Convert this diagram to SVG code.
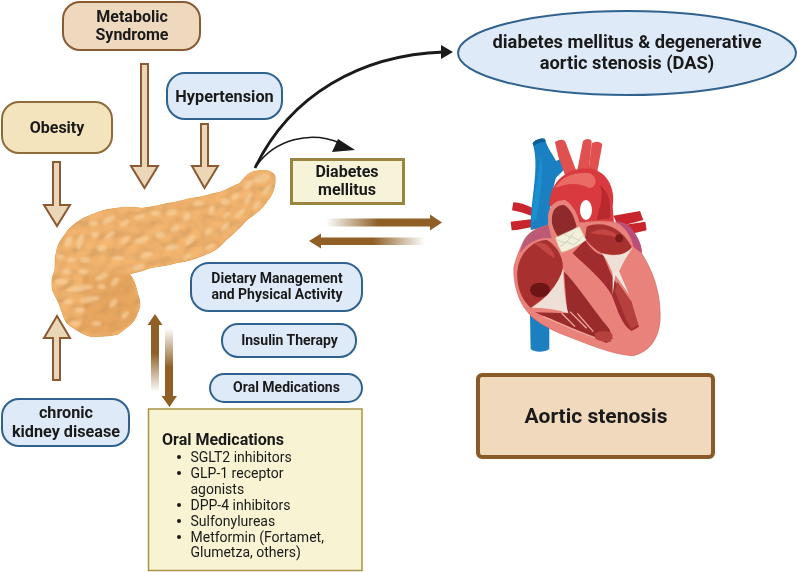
<svg xmlns="http://www.w3.org/2000/svg" width="797" height="572" viewBox="0 0 797 572">
<style>
text{font-family:Roboto,"Liberation Sans",sans-serif;fill:#1a1a1a;text-anchor:middle;font-weight:700}
.b{fill:#deeaf7;stroke:#30628f;stroke-width:2}
.t{fill:#eed9bf;stroke:#8a5a32;stroke-width:2}
.y{fill:#f3e4bd;stroke:#8f6b3a;stroke-width:2}
.ar{fill:#ebd6b8;stroke:#8a5a32;stroke-width:2;stroke-linejoin:miter}
.l{text-anchor:start;font-weight:400;font-size:14px}
.lob{fill:#f6d09c}
.lob2{fill:#d8944a}
</style>
<defs>
<linearGradient id="gr" x1="0" x2="1" y1="0" y2="0"><stop offset="0" stop-color="#8f5f26" stop-opacity="0"/><stop offset=".45" stop-color="#8f5f26"/><stop offset="1" stop-color="#8f5f26"/></linearGradient>
<linearGradient id="gl" x1="1" x2="0" y1="0" y2="0"><stop offset="0" stop-color="#8f5f26" stop-opacity="0"/><stop offset=".45" stop-color="#8f5f26"/><stop offset="1" stop-color="#8f5f26"/></linearGradient>
<linearGradient id="gu" x1="0" x2="0" y1="1" y2="0"><stop offset="0" stop-color="#8f5f26" stop-opacity="0"/><stop offset=".5" stop-color="#8f5f26"/><stop offset="1" stop-color="#8f5f26"/></linearGradient>
<linearGradient id="gd" x1="0" x2="0" y1="0" y2="1"><stop offset="0" stop-color="#8f5f26" stop-opacity="0"/><stop offset=".5" stop-color="#8f5f26"/><stop offset="1" stop-color="#8f5f26"/></linearGradient>
<filter id="soft2" x="-5%" y="-5%" width="110%" height="110%"><feGaussianBlur stdDeviation="2.500"/></filter>
<filter id="bump" x="0" y="0" width="100%" height="100%"><feTurbulence type="fractalNoise" baseFrequency=".03 .036" numOctaves="1" seed="7"/><feGaussianBlur stdDeviation="2" result="n"/><feDiffuseLighting in="n" surfaceScale="7" lighting-color="#f4b670" result="l"><feDistantLight azimuth="235" elevation="70"/></feDiffuseLighting><feComposite in="l" in2="SourceGraphic" operator="in"/></filter>
<clipPath id="pc"><path d="M705,50C700,32 675,28 640,35C620,42 612,55 600,70C575,80 560,90 540,97C510,102 490,112 455,115C425,122 405,128 385,130C355,137 335,142 305,145C275,140 245,142 215,147C185,150 155,165 130,175C105,190 85,205 78,220C62,240 52,255 50,275C42,295 48,320 44,335C34,350 35,375 38,390C42,405 55,420 62,445C72,470 75,490 90,497C110,510 130,525 155,530C180,528 205,530 235,522C255,505 285,490 292,460C303,440 300,420 294,405C288,385 285,360 268,342C290,335 305,335 325,325C350,318 380,318 410,308C440,305 470,295 500,282C520,275 540,262 558,240C575,225 595,210 620,180C640,165 665,150 680,125C695,110 708,80 705,50Z"/></clipPath>
</defs>

<g id="pancreas" transform="translate(40,160) scale(.3333)">
<path d="M705,50C700,32 675,28 640,35C620,42 612,55 600,70C575,80 560,90 540,97C510,102 490,112 455,115C425,122 405,128 385,130C355,137 335,142 305,145C275,140 245,142 215,147C185,150 155,165 130,175C105,190 85,205 78,220C62,240 52,255 50,275C42,295 48,320 44,335C34,350 35,375 38,390C42,405 55,420 62,445C72,470 75,490 90,497C110,510 130,525 155,530C180,528 205,530 235,522C255,505 285,490 292,460C303,440 300,420 294,405C288,385 285,360 268,342C290,335 305,335 325,325C350,318 380,318 410,308C440,305 470,295 500,282C520,275 540,262 558,240C575,225 595,210 620,180C640,165 665,150 680,125C695,110 708,80 705,50Z" fill="#e8a75c" stroke="#e39a48" stroke-width="3"/>
<path d="M705,50C700,32 675,28 640,35C620,42 612,55 600,70C575,80 560,90 540,97C510,102 490,112 455,115C425,122 405,128 385,130C355,137 335,142 305,145C275,140 245,142 215,147C185,150 155,165 130,175C105,190 85,205 78,220C62,240 52,255 50,275C42,295 48,320 44,335C34,350 35,375 38,390C42,405 55,420 62,445C72,470 75,490 90,497C110,510 130,525 155,530C180,528 205,530 235,522C255,505 285,490 292,460C303,440 300,420 294,405C288,385 285,360 268,342C290,335 305,335 325,325C350,318 380,318 410,308C440,305 470,295 500,282C520,275 540,262 558,240C575,225 595,210 620,180C640,165 665,150 680,125C695,110 708,80 705,50Z" fill="#000" filter="url(#bump)"/>
<g clip-path="url(#pc)"><g filter="url(#soft2)">
<path class="lob2" d="M130,350C180,340 230,345 268,342C290,370 300,440 280,480C240,525 170,530 110,510C150,470 120,410 130,350Z" opacity=".4"/>
<g class="lob" opacity=".7">
<ellipse cx="665" cy="55" rx="28" ry="12" transform="rotate(-15 665 55)"/><ellipse cx="625" cy="75" rx="18" ry="9" transform="rotate(-50 625 75)"/><ellipse cx="680" cy="90" rx="20" ry="8" transform="rotate(-50 680 90)"/><ellipse cx="625" cy="115" rx="22" ry="8" transform="rotate(-65 625 115)"/><ellipse cx="650" cy="135" rx="16" ry="7" transform="rotate(-55 650 135)"/><ellipse cx="585" cy="110" rx="15" ry="8" transform="rotate(-30 585 110)"/><ellipse cx="555" cy="125" rx="14" ry="10"/><ellipse cx="600" cy="160" rx="20" ry="8" transform="rotate(-45 600 160)"/><ellipse cx="555" cy="200" rx="18" ry="8" transform="rotate(-45 555 200)"/><ellipse cx="515" cy="150" rx="9" ry="16" transform="rotate(15 515 150)"/><ellipse cx="475" cy="130" rx="16" ry="8"/><ellipse cx="440" cy="170" rx="10" ry="14" transform="rotate(20 440 170)"/><ellipse cx="395" cy="158" rx="17" ry="9" transform="rotate(-15 395 158)"/><ellipse cx="345" cy="160" rx="15" ry="8"/><ellipse cx="300" cy="170" rx="16" ry="8" transform="rotate(-20 300 170)"/><ellipse cx="255" cy="190" rx="16" ry="8" transform="rotate(-30 255 190)"/><ellipse cx="205" cy="180" rx="22" ry="9" transform="rotate(-30 205 180)"/><ellipse cx="160" cy="190" rx="14" ry="8"/><ellipse cx="120" cy="245" rx="9" ry="26" transform="rotate(15 120 245)"/><ellipse cx="85" cy="245" rx="10" ry="18" transform="rotate(25 85 245)"/><ellipse cx="165" cy="225" rx="12" ry="9"/><ellipse cx="210" cy="225" rx="18" ry="8" transform="rotate(-35 210 225)"/><ellipse cx="255" cy="240" rx="17" ry="8" transform="rotate(-40 255 240)"/><ellipse cx="305" cy="240" rx="23" ry="8" transform="rotate(-20 305 240)"/><ellipse cx="360" cy="225" rx="15" ry="11"/><ellipse cx="405" cy="205" rx="16" ry="9" transform="rotate(-30 405 205)"/><ellipse cx="450" cy="240" rx="20" ry="9" transform="rotate(-50 450 240)"/><ellipse cx="505" cy="215" rx="15" ry="9" transform="rotate(-40 505 215)"/><ellipse cx="510" cy="260" rx="16" ry="7" transform="rotate(-25 510 260)"/><ellipse cx="395" cy="262" rx="19" ry="10" transform="rotate(-10 395 262)"/><ellipse cx="320" cy="285" rx="20" ry="9" transform="rotate(-20 320 285)"/><ellipse cx="295" cy="322" rx="20" ry="9" transform="rotate(-15 295 322)"/><ellipse cx="235" cy="295" rx="17" ry="7"/><ellipse cx="185" cy="265" rx="14" ry="10"/><ellipse cx="135" cy="300" rx="14" ry="9"/><ellipse cx="95" cy="300" rx="13" ry="8"/><ellipse cx="60" cy="290" rx="12" ry="7"/><ellipse cx="185" cy="350" rx="20" ry="9" transform="rotate(-25 185 350)"/><ellipse cx="130" cy="335" rx="15" ry="8"/><ellipse cx="80" cy="335" rx="14" ry="8"/><ellipse cx="65" cy="365" rx="20" ry="9"/><ellipse cx="120" cy="385" rx="40" ry="9" transform="rotate(-8 120 385)"/><ellipse cx="185" cy="380" rx="12" ry="8"/><ellipse cx="150" cy="418" rx="30" ry="9" transform="rotate(-10 150 418)"/><ellipse cx="85" cy="425" rx="14" ry="8"/><ellipse cx="120" cy="450" rx="14" ry="8"/><ellipse cx="225" cy="365" rx="16" ry="8" transform="rotate(-50 225 365)"/><ellipse cx="220" cy="430" rx="14" ry="8" transform="rotate(-50 220 430)"/><ellipse cx="255" cy="465" rx="14" ry="7" transform="rotate(-50 255 465)"/><ellipse cx="105" cy="490" rx="16" ry="6"/><ellipse cx="170" cy="490" rx="14" ry="7"/><ellipse cx="440" cy="290" rx="16" ry="6" transform="rotate(-20 440 290)"/><ellipse cx="560" cy="165" rx="12" ry="7" transform="rotate(-40 560 165)"/>
</g></g></g>
</g>

<g id="heart" transform="translate(490,125) scale(.3333)">
<g fill="#c8262c"><path d="M70,232C90,232 110,240 130,250L128,274C105,265 85,260 66,256Z"/><path d="M62,290L128,282L130,305C105,310 85,315 65,316Z"/><path d="M370,272L450,258L460,285L385,305Z"/><path d="M400,300L466,290L470,316L410,330Z"/></g>
<path d="M120,570L178,580L178,672C165,682 135,684 122,672Z" fill="#1b7fc0"/>
<path d="M128,55C135,42 160,38 165,42C172,70 190,90 198,108L215,100L228,128L198,158C185,200 180,250 175,305L122,315C122,210 150,130 128,55Z" fill="#1b80c2"/>
<path d="M128,55C135,42 160,38 165,42L166,50C155,52 140,55 132,62Z" fill="#0e5f98"/>
<path d="M150,90C165,130 150,210 140,280L125,290C128,210 150,150 150,90Z" fill="#1a90d0"/>
<g fill="#e0504f"><path d="M195,52C205,42 220,42 226,50L258,135L225,150L205,95Z"/><path d="M279,48C288,40 300,40 305,48L296,140L262,135Z"/><path d="M305,55C315,48 330,48 337,58L322,140L296,135Z"/></g>
<path d="M178,240C180,170 230,130 290,130C350,132 378,190 368,245L372,295L230,300Z" fill="#d83a3f"/>
<path d="M195,190C215,150 260,140 300,145C325,160 320,185 300,190C265,170 225,175 195,190Z" fill="#ea6a66"/>
<path d="M330,180C355,200 365,230 360,280L320,285C325,250 345,220 330,180Z" fill="#b92a30"/>
<ellipse cx="288" cy="255" rx="18" ry="30" fill="#fff"/>
<path d="M100,350C115,320 140,310 175,300L280,292C340,285 385,285 425,315C450,345 455,370 455,385C490,440 515,510 510,590C505,640 480,680 430,692C370,690 300,660 210,625C165,605 130,585 112,560C85,530 68,470 72,425C80,395 88,375 100,350Z" fill="#e8827a" stroke="#d9675f" stroke-width="2"/>
<path d="M100,350C115,320 140,310 175,300L185,340C150,335 115,350 90,385C92,375 95,362 100,350Z" fill="#bd5a78"/>
<path d="M375,288C400,290 420,300 430,318C450,345 456,370 455,385L430,365C425,335 405,305 375,288Z" fill="#b94f78"/>
<path d="M82,440C85,385 130,345 170,345C200,360 222,400 218,430L210,460C190,500 150,530 122,548C100,530 78,490 82,440Z" fill="#a8302f"/>
<ellipse cx="150" cy="495" rx="30" ry="22" fill="#6d1414"/>
<path d="M130,355C165,345 190,370 195,400C165,385 150,365 130,355Z" fill="#c24743"/>
<path d="M222,440C255,470 300,540 358,612L368,640L350,654C290,632 200,590 135,562L232,565Z" fill="#9a2b2b"/>
<path d="M125,548C165,525 205,480 220,430C220,480 225,530 235,565C200,552 160,548 125,548Z" fill="#eee0d6"/>
<g stroke="#f0a89e" stroke-width="4" fill="none"><path d="M160,575C200,590 260,620 320,640M215,565L255,605M240,560L290,610M262,565L310,620"/></g>
<path d="M315,625C335,615 360,615 368,630L362,650C345,652 325,648 315,640Z" fill="#b5403c"/>
<path d="M175,290C170,250 190,225 225,225C250,240 265,270 270,300L285,330L210,380C195,350 180,325 175,290Z" fill="#e8827a"/>
<path d="M186,295C183,260 195,240 222,240C242,250 252,275 260,305L212,345C200,330 190,315 186,295Z" fill="#8e2a2c"/>
<path d="M285,340L290,305C330,290 385,295 425,365C415,385 385,395 335,385C315,375 295,355 285,340Z" fill="#a8302f"/>
<path d="M300,325C330,305 370,310 395,345C370,330 330,330 300,325Z" fill="#c24743"/>
<circle cx="388" cy="340" r="12" fill="#7a1a1a"/>
<path d="M248,385L285,345C305,375 325,390 340,390L362,445C385,490 430,540 447,605L425,618C395,600 385,560 365,510C340,465 290,425 248,385Z" fill="#a12c2d"/>
<path d="M335,385C370,395 400,395 430,365C410,395 395,420 385,445L368,445C358,420 348,400 335,385Z" fill="#eee0d6"/>
<path d="M368,440L368,510L376,450L418,510L388,440Z" fill="#f2e6df"/>
<path d="M382,470L425,530L445,600L425,612C405,585 390,530 375,500Z" fill="#b5403c"/>
<path d="M197,338L268,305L288,345C265,362 240,375 215,382C208,368 200,352 197,338Z" fill="#f2efdc" stroke="#d8d4b8" stroke-width="2"/>
<g fill="none" stroke="#bcc4ae" stroke-width="2"><path d="M203,345L225,355L245,335L265,345L283,330M210,365L230,350L250,360L270,345"/><path d="M222,325L238,338L255,320"/></g>
</g>

<g id="connectors">
<path class="ar" d="M141,64H148V166H158L144.500,188L131,166H141Z"/>
<path class="ar" d="M201,124H208V166H218L204.500,188L192,166H201Z"/>
<path class="ar" d="M53,162H60V205H70L57,226L44,205H53Z"/>
<path class="ar" d="M53,380H60V338H70L57,316L44,338H53Z"/>
<path d="M255,168C290,95 360,55 444,52" fill="none" stroke="#1a1a1a" stroke-width="2.800"/>
<path d="M453,52L441,45V59Z" fill="#1a1a1a"/>
<path d="M257,165C275,140 310,130 340,143" fill="none" stroke="#1a1a1a" stroke-width="1.500"/>
<path d="M355,150L332,152L338,139Z" fill="#1a1a1a"/>
<path d="M326,218.500H430V214.500L442,222.500L430,230.500V226.500H326Z" fill="url(#gr)"/>
<path d="M425,237.500H321V233.500L309,241L321,248.500V245H425Z" fill="url(#gl)"/>
<path d="M151,392V325H147.500L155,314L162.500,325H159V392Z" fill="url(#gu)"/>
<path d="M165,328V396H161.500L169.500,407L177,396H173V328Z" fill="url(#gd)"/>
</g>

<g id="metabolic"><rect class="t" x="63" y="2" width="137" height="48" rx="17"/><text x="132" y="22" font-size="16">Metabolic</text><text x="132" y="40" font-size="16">Syndrome</text></g>
<g id="hypertension"><rect class="b" x="167" y="73" width="115" height="46" rx="18"/><text x="224.500" y="101.500" font-size="16.300">Hypertension</text></g>
<g id="obesity"><rect class="y" x="2" y="102" width="110" height="51" rx="17"/><text x="57" y="133" font-size="16">Obesity</text></g>
<g id="ckd"><rect class="b" x="2" y="399" width="127" height="47" rx="17"/><text x="66" y="418" font-size="16.200">chronic</text><text x="66" y="437" font-size="16.200">kidney disease</text></g>
<g id="diabetes"><rect x="291.500" y="159.500" width="112" height="44" fill="#f6f3d9" stroke="#9a8540" stroke-width="3"/><text x="347" y="177" font-size="16">Diabetes</text><text x="347" y="195" font-size="16">mellitus</text></g>
<g id="das"><ellipse cx="627" cy="53" rx="169" ry="42" class="b"/><text x="627" y="48" font-size="18.300">diabetes mellitus &amp; degenerative</text><text x="627" y="69" font-size="18.300">aortic stenosis (DAS)</text></g>
<g id="aortic"><rect x="478" y="375" width="235" height="82" rx="4" fill="#f0d9bd" stroke="#8a5a2b" stroke-width="4"/><text x="596" y="423" font-size="21">Aortic stenosis</text></g>
<g id="dietary"><rect class="b" x="191" y="263" width="171" height="48" rx="18"/><text x="277" y="283" font-size="14">Dietary Management</text><text x="277" y="299" font-size="14">and Physical Activity</text></g>
<g id="insulin"><rect class="b" x="222" y="324" width="134" height="33" rx="16"/><text x="289.500" y="345" font-size="14">Insulin Therapy</text></g>
<g id="oral"><rect class="b" x="210" y="374" width="152" height="28" rx="14"/><text x="286.500" y="392" font-size="14">Oral Medications</text></g>
<g id="oral-list"><rect x="148.500" y="409" width="213.500" height="161.500" fill="#f7f3d3" stroke="#a89348" stroke-width="1.500"/>
<text x="162" y="445" font-size="16" style="text-anchor:start">Oral Medications</text>
<g fill="#1a1a1a"><circle cx="179" cy="457" r="2"/><circle cx="179" cy="473" r="2"/><circle cx="179" cy="505" r="2"/><circle cx="179" cy="521" r="2"/><circle cx="179" cy="537" r="2"/></g>
<text class="l" x="190.500" y="461.500">SGLT2 inhibitors</text><text class="l" x="190.500" y="477.500">GLP-1 receptor</text><text class="l" x="190.500" y="493.500">agonists</text><text class="l" x="190.500" y="509.500">DPP-4 inhibitors</text><text class="l" x="190.500" y="525.500">Sulfonylureas</text><text class="l" x="190.500" y="541.500">Metformin (Fortamet,</text><text class="l" x="190.500" y="557">Glumetza, others)</text></g>
</svg>
